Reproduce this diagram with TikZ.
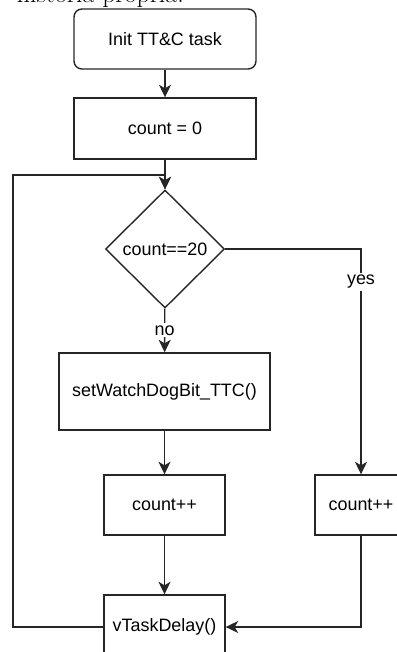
\documentclass[tikz,border=0pt]{standalone}
\usepackage{fontspec}
\newfontfamily\flowfont{Liberation Sans}
\usetikzlibrary{shapes.geometric,arrows.meta}
\tikzset{
  box/.style={draw=black!85, line width=1.4bp, font=\flowfont\fontsize{18}{22}\selectfont,
    inner sep=0pt, minimum width=#1},
  box/.default=121bp,
  decision/.style={diamond, draw=black!85, line width=1.4bp, inner sep=0pt,
    font=\flowfont\fontsize{18}{22}\selectfont, minimum width=119bp, minimum height=118bp},
  flow/.style={draw=black!85, line width=1.4bp, -{Stealth[length=12.5bp,width=12bp,inset=3.5bp]}},
  tag/.style={fill=white, inner sep=2pt, font=\flowfont\fontsize{18}{22}\selectfont}
}
\begin{document}
\begin{tikzpicture}[x=1bp, y=-1bp]
        \useasboundingbox (0,0) rectangle (396,652);
        % cut-off line of the surrounding text
        \node[anchor=base east, inner sep=0pt, font=\fontsize{26}{30}\selectfont] (caption) at (184,2.5) {história própria.};
        % boxes
        \node[box=182bp, minimum height=60bp, rounded corners=8bp] (init) at (165,39) {Init TT\&C task};
        \node[box=182bp, minimum height=61bp] (zero) at (165,128.5) {count = 0};
        \node[decision] (test) at (165,249) {count==20};
        \node[box=211bp, minimum height=77bp] (watch) at (164.5,391.5) {setWatchDogBit\_TTC()};
        \node[box, minimum height=60bp] (inc) at (164.5,505) {count++};
        \node[box=92bp, minimum height=60bp] (incyes) at (361,505) {count++};
        \node[box, minimum height=64bp] (delay) at (164.5,627) {vTaskDelay()};
        \coordinate (loopleft) at (13,175);
        \coordinate (yescorner) at (test.east -| incyes.north);
        % connectors
        \draw[flow] (init) -- (zero);
        \draw[flow] (zero) -- (test);
        \draw[flow] (test) -- node[tag] {no} (watch);
        \draw[flow] (test.east) -- (yescorner) -- node[tag, pos=0.146] {yes} (incyes.north);
        \draw[flow] (watch) -- (inc);
        \draw[flow] (inc) -- (delay);
        \draw[flow] (incyes) |- (delay);
        \draw[flow] (delay.west) -| (loopleft) -| (test.north);
      \end{tikzpicture}
\end{document}
